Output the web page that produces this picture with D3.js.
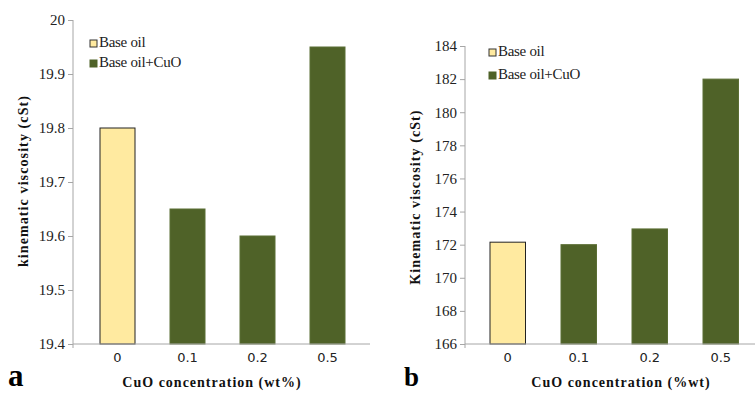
<!DOCTYPE html>
<html>
<head>
<meta charset="utf-8">
<script src="https://cdn.jsdelivr.net/npm/d3@7"></script>
<style>
  body { margin: 0; background: #fff; }
  svg { display: block; }
</style>
</head>
<body>
<div id="chart"></div>
<script>
// data
const categories = ["0", "0.1", "0.2", "0.5"];
const seriesNames = ["Base oil", "Base oil+CuO"];
const viscosityA = [19.8, 19.65, 19.6, 19.95];
const viscosityB = [172.15, 172.0, 172.95, 182.0];
const ticksA = [19.4, 19.5, 19.6, 19.7, 19.8, 19.9, 20];
const ticksB = [166, 168, 170, 172, 174, 176, 178, 180, 182, 184];

const width = 755, height = 393;
const yellow = "#ffeaa0", green = "#4f6228", axisGray = "#a6a6a6";

var svg = d3.select("#chart")
    .append("svg")
    .attr("width", width)
    .attr("height", height);

function drawPanel(opt) {
    const g = svg.append("g");

    const x = d3.scaleBand()
        .domain(categories)
        .range(opt.xRange)
        .paddingInner(0.5)
        .paddingOuter(0.25);

    const y = d3.scaleLinear()
        .domain(opt.yDomain)
        .range([344, opt.yTop]);

    // bars
    g.selectAll("rect.bar")
        .data(opt.values)
        .join("rect")
        .attr("class", "bar")
        .attr("x", (d, i) => x(categories[i]))
        .attr("y", d => y(d))
        .attr("width", x.bandwidth())
        .attr("height", d => y(opt.yDomain[0]) - y(d))
        .attr("fill", (d, i) => i === 0 ? yellow : green)
        .attr("stroke", (d, i) => i === 0 ? "#222" : "#5b6e34")
        .attr("stroke-width", 1);

    // y axis
    const yAxis = g.append("g")
        .attr("transform", `translate(${opt.axisX},0)`)
        .call(d3.axisLeft(y).tickValues(opt.ticks).tickSize(5).tickPadding(3)
            .tickFormat(d => String(d)));
    yAxis.select(".domain").attr("stroke", axisGray).attr("d", `M0,${opt.yTop}V344`);
    yAxis.selectAll(".tick line").attr("stroke", axisGray);
    yAxis.selectAll(".tick text")
        .attr("fill", "#222")
        .style("font-family", "'Liberation Serif', serif")
        .style("font-size", "15px");

    // x axis
    const xAxis = g.append("g")
        .attr("transform", "translate(0,344)")
        .call(d3.axisBottom(x).tickSize(0).tickPadding(9));
    xAxis.select(".domain").attr("stroke", axisGray)
        .attr("d", `M${opt.axisX},0H${opt.xEnd}M${opt.axisX},0V4`);
    xAxis.selectAll(".tick text")
        .attr("fill", "#222")
        .style("font-family", "'DejaVu Sans', sans-serif")
        .style("font-size", "13px");

    // legend
    const legend = g.selectAll(".legend")
        .data(seriesNames)
        .join("g")
        .attr("class", "legend")
        .attr("transform", (d, i) => `translate(${opt.legendX},${opt.legendY + i * opt.legendGap})`);
    legend.append("rect")
        .attr("width", 7)
        .attr("height", 7)
        .attr("fill", (d, i) => i === 0 ? yellow : green)
        .attr("stroke", (d, i) => i === 0 ? "#333" : green)
        .attr("stroke-width", 1);
    legend.append("text")
        .attr("x", 9)
        .attr("y", 7)
        .attr("fill", "#222")
        .style("font-family", "'Liberation Serif', serif")
        .style("font-size", "15px")
        .style("letter-spacing", "-0.3px")
        .text(d => d);

    // axis titles
    g.append("text")
        .attr("transform", `translate(${opt.yTitleX},${opt.yTitleY}) rotate(-90)`)
        .attr("text-anchor", "middle")
        .attr("fill", "#111")
        .style("font-family", "'Liberation Serif', serif")
        .style("font-weight", "bold")
        .style("font-size", "14px")
        .style("letter-spacing", "1.1px")
        .text(opt.yTitle);

    g.append("text")
        .attr("x", opt.xTitleX)
        .attr("y", 387)
        .attr("text-anchor", "middle")
        .attr("fill", "#111")
        .style("font-family", "'Liberation Serif', serif")
        .style("font-weight", "bold")
        .style("font-size", "14px")
        .style("letter-spacing", "1px")
        .text(opt.xTitle);

    // panel letter
    g.append("text")
        .attr("x", opt.letterX)
        .attr("y", 386)
        .attr("fill", "#000")
        .style("font-family", "'Liberation Serif', serif")
        .style("font-weight", "bold")
        .style("font-size", opt.letterSize)
        .text(opt.letter);
}

drawPanel({
    values: viscosityA, ticks: ticksA, yDomain: [19.4, 20], yTop: 20,
    xRange: [82.5, 362.5], axisX: 73, xEnd: 370,
    legendX: 90, legendY: 40, legendGap: 20,
    yTitle: "kinematic viscosity (cSt)", yTitleX: 28, yTitleY: 181,
    xTitle: "CuO concentration (wt%)", xTitleX: 212,
    letter: "a", letterX: 8, letterSize: "31px"
});

drawPanel({
    values: viscosityB, ticks: ticksB, yDomain: [166, 184], yTop: 46,
    xRange: [472.25, 756.25], axisX: 465, xEnd: 755,
    legendX: 489, legendY: 49, legendGap: 23,
    yTitle: "Kinematic viscosity (cSt)", yTitleX: 420, yTitleY: 197,
    xTitle: "CuO concentration (%wt)", xTitleX: 621,
    letter: "b", letterX: 404, letterSize: "27px"
});
</script>
</body>
</html>
